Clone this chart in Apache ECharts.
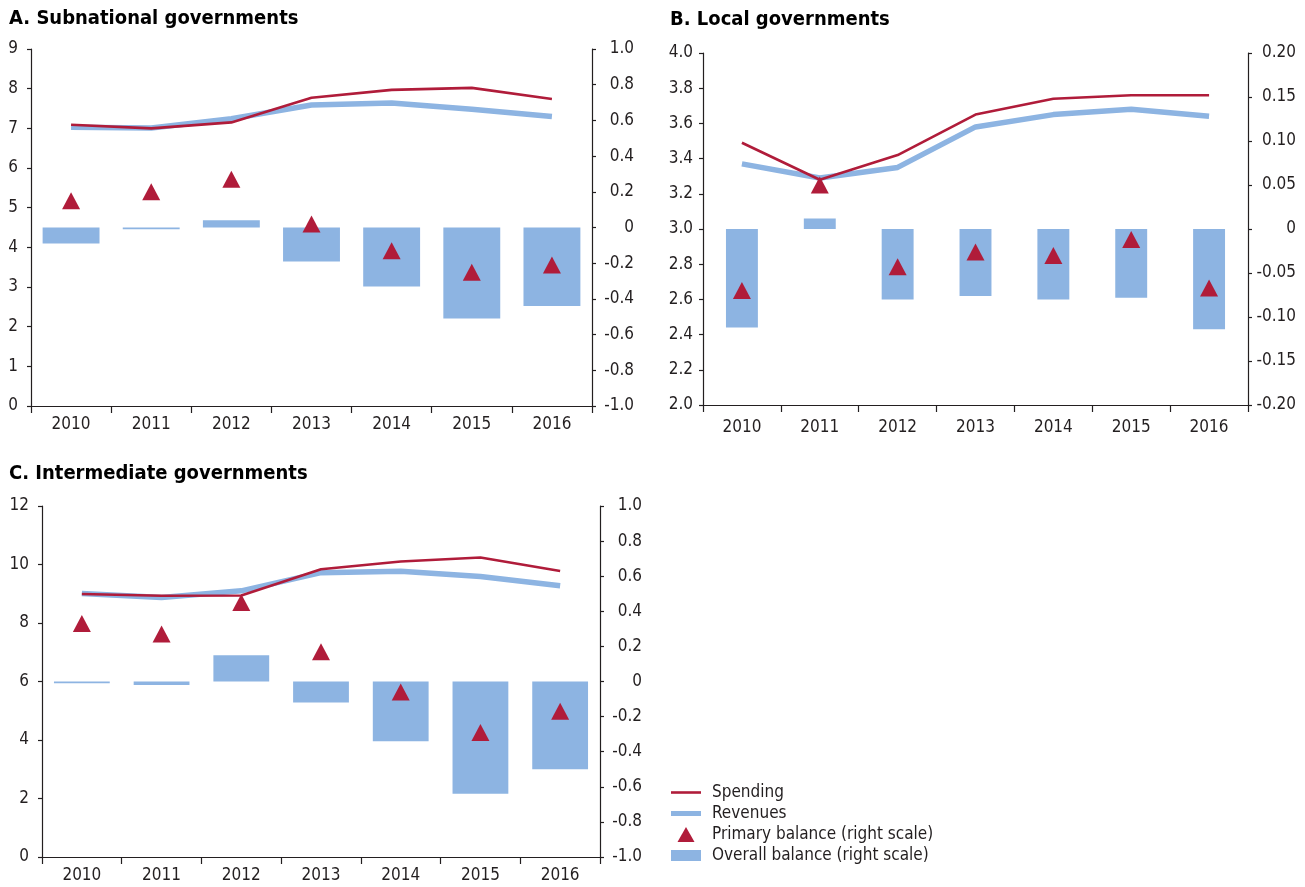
<!DOCTYPE html>
<html>
<head>
<meta charset="utf-8">
<script src="https://cdn.jsdelivr.net/npm/echarts@6/dist/echarts.min.js"></script>
<style>
html,body{margin:0;padding:0;background:#fff;}
#chart{width:1305px;height:887px;}
</style>
</head>
<body>
<div id="chart"></div>
<script>
const years = ['2010','2011','2012','2013','2014','2015','2016'];

const aSpending = [7.09, 7.00, 7.15, 7.77, 7.97, 8.02, 7.74];
const aRevenues = [7.03, 7.01, 7.24, 7.59, 7.64, 7.48, 7.30];
const aPrimary  = [0.15, 0.20, 0.27, 0.02, -0.13, -0.25, -0.21];
const aOverall  = [-0.09, -0.01, 0.04, -0.19, -0.33, -0.51, -0.44];

const bSpending = [3.49, 3.28, 3.42, 3.65, 3.74, 3.76, 3.76];
const bRevenues = [3.37, 3.29, 3.35, 3.58, 3.65, 3.68, 3.64];
const bPrimary  = [-0.070, 0.050, -0.043, -0.026, -0.030, -0.012, -0.067];
const bOverall  = [-0.112, 0.012, -0.080, -0.076, -0.080, -0.078, -0.114];

const cSpending = [8.99, 8.93, 8.94, 9.84, 10.10, 10.24, 9.78];
const cRevenues = [9.01, 8.87, 9.10, 9.72, 9.77, 9.59, 9.27];
const cPrimary  = [0.33, 0.27, 0.45, 0.17, -0.06, -0.29, -0.17];
const cOverall  = [-0.01, -0.02, 0.15, -0.12, -0.34, -0.64, -0.50];

const titles = ['A. Subnational governments', 'B. Local governments', 'C. Intermediate governments'];
const seriesNames = ['Spending', 'Revenues', 'Primary balance (right scale)', 'Overall balance (right scale)'];

const FONT = "'Liberation Sans Narrow','DejaVu Sans Condensed','Roboto',sans-serif";
const RED = '#B01C3A';
const BLUE = '#8DB4E2';
const INK = '#231F20';
const FS = 17;

const grids = [
  {left: 31, top: 49, width: 561, height: 357},
  {left: 703, top: 53, width: 545, height: 352},
  {left: 42, top: 506, width: 558, height: 351}
];

function fmt(dec) {
  return function (v) {
    if (Math.abs(v) < 1e-9) return '0';
    return v.toFixed(dec);
  };
}

function xAxis(i, margin) {
  return {
    type: 'category', gridIndex: i, data: years, boundaryGap: true,
    axisLine: {show: true, onZero: false, lineStyle: {color: INK, width: 1.2}},
    axisTick: {show: true, length: 7, alignWithLabel: false, lineStyle: {color: INK, width: 1.2}},
    axisLabel: {color: INK, fontFamily: FONT, fontSize: FS, margin: margin},
    splitLine: {show: false}
  };
}

function yLeft(i, min, max, interval, dec, margin) {
  return {
    type: 'value', gridIndex: i, position: 'left', min: min, max: max, interval: interval,
    axisLine: {show: true, onZero: false, lineStyle: {color: INK, width: 1.2}},
    axisTick: {show: true, length: 4, lineStyle: {color: INK, width: 1.2}},
    axisLabel: {color: INK, fontFamily: FONT, fontSize: FS, margin: margin, formatter: fmt(dec)},
    splitLine: {show: false}
  };
}

function yRight(i, min, max, interval, dec, margin) {
  return {
    type: 'value', gridIndex: i, position: 'right', min: min, max: max, interval: interval,
    axisLine: {show: true, onZero: false, lineStyle: {color: INK, width: 1.2}},
    axisTick: {show: true, length: 4, lineStyle: {color: INK, width: 1.2}},
    axisLabel: {color: INK, fontFamily: FONT, fontSize: FS, margin: margin, align: 'right', formatter: fmt(dec)},
    splitLine: {show: false}
  };
}

function panelSeries(i, spending, revenues, primary, overall, barWidth) {
  return [
    {
      name: seriesNames[3], type: 'bar', xAxisIndex: i, yAxisIndex: 2 * i + 1,
      data: overall, barWidth: barWidth, itemStyle: {color: BLUE}, z: 2, silent: true
    },
    {
      name: seriesNames[1], type: 'line', xAxisIndex: i, yAxisIndex: 2 * i,
      data: revenues, showSymbol: false, symbol: 'none', itemStyle: {color: BLUE},
      lineStyle: {color: BLUE, width: 5.5}, z: 3, silent: true
    },
    {
      name: seriesNames[0], type: 'line', xAxisIndex: i, yAxisIndex: 2 * i,
      data: spending, showSymbol: false, symbol: 'none', itemStyle: {color: RED},
      lineStyle: {color: RED, width: 2.6}, z: 4, silent: true
    },
    {
      name: seriesNames[2], type: 'scatter', xAxisIndex: i, yAxisIndex: 2 * i + 1,
      data: primary, symbol: 'triangle', symbolSize: [18, 17],
      itemStyle: {color: RED, opacity: 1}, z: 5, silent: true
    }
  ];
}

const chart = echarts.init(document.getElementById('chart'), null, {renderer: 'canvas'});

const titleStyle = {fontFamily: FONT, fontSize: 20, fontWeight: 'bold', color: '#000'};

const option = {
  animation: false,
  backgroundColor: '#fff',
  title: [
    {text: titles[0], left: 9, top: 9, padding: 0, textStyle: titleStyle},
    {text: titles[1], left: 670, top: 10, padding: 0, textStyle: titleStyle},
    {text: titles[2], left: 9, top: 464, padding: 0, textStyle: titleStyle}
  ],
  legend: {
    orient: 'vertical', left: 671, top: 784, padding: 0,
    itemWidth: 30, itemHeight: 15, itemGap: 4,
    selectedMode: false,
    itemStyle: {borderWidth: 0, opacity: 1},
    textStyle: {fontFamily: FONT, fontSize: FS, color: INK, padding: [0, 0, 0, 6]},
    data: [
      {name: seriesNames[0], icon: 'path://M0,0H30V2.6H0Z'},
      {name: seriesNames[1], icon: 'path://M0,0H30V5H0Z'},
      {name: seriesNames[2], icon: 'path://M8.5,0L17,15L0,15Z'},
      {name: seriesNames[3], icon: 'path://M0,0H30V11H0Z'}
    ]
  },
  grid: grids,
  xAxis: [xAxis(0, 10), xAxis(1, 14), xAxis(2, 10)],
  yAxis: [
    yLeft(0, 0, 9, 1, 0, 13),
    yRight(0, -1, 1, 0.2, 1, 42),
    yLeft(1, 2, 4, 0.2, 1, 10),
    yRight(1, -0.2, 0.2, 0.05, 2, 48),
    yLeft(2, 0, 12, 2, 0, 13),
    yRight(2, -1, 1, 0.2, 1, 42)
  ],
  series: [].concat(
    panelSeries(0, aSpending, aRevenues, aPrimary, aOverall, '71%'),
    panelSeries(1, bSpending, bRevenues, bPrimary, bOverall, '41%'),
    panelSeries(2, cSpending, cRevenues, cPrimary, cOverall, '70%')
  )
};

chart.setOption(option);
</script>
</body>
</html>
